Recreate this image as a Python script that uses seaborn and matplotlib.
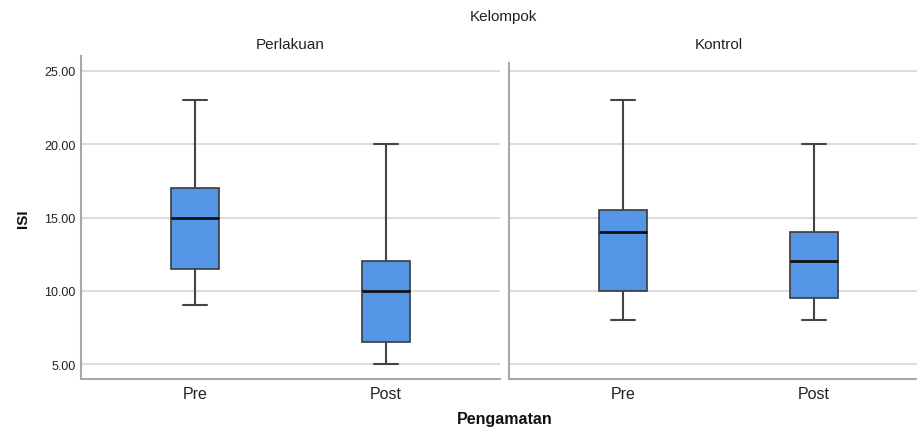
import matplotlib
matplotlib.use("Agg")
import matplotlib.pyplot as plt
import seaborn as sns
import pandas as pd

# Five-number summaries (min, Q1, median, Q3, max)
groups = ["Perlakuan", "Kontrol"]
times = ["Pre", "Post"]
perlakuan_pre = [9, 11.5, 15, 17, 23]
perlakuan_post = [5, 6.5, 10, 12, 20]
kontrol_pre = [8, 10, 14, 15.5, 23]
kontrol_post = [8, 9.5, 12, 14, 20]
yticks = [5, 10, 15, 20, 25]

values = {("Perlakuan", "Pre"): perlakuan_pre, ("Perlakuan", "Post"): perlakuan_post,
          ("Kontrol", "Pre"): kontrol_pre, ("Kontrol", "Post"): kontrol_post}
rows = []
for (g, t), vals in values.items():
    for v in vals:
        rows.append({"Kelompok": g, "Pengamatan": t, "ISI": v})
df = pd.DataFrame(rows)

sns.set_theme(style="white")
plt.rcParams['font.family'] = ['Liberation Sans', 'DejaVu Sans']

W, H = 917, 431
fig = plt.figure(figsize=(W / 100, H / 100), dpi=100)

box_color = "#5495e6"
edge = "#3a3a3a"
grid_c = "#d9d9d9"
spine_c = "#a8a8a8"

ylo, yhi = 3.98, 26.02
axes_px = [(81, 500), (509, 928)]
top_px, bot_px = 57, 380
for i, g in enumerate(groups):
    x0, x1 = axes_px[i]
    ax = fig.add_axes([x0 / W, 1 - bot_px / H, (x1 - x0) / W, (bot_px - top_px) / H])
    sub = df[df["Kelompok"] == g]
    for yt in yticks:
        ax.axhline(yt, color=grid_c, lw=1.3, zorder=0)
    sns.boxplot(data=sub, x="Pengamatan", y="ISI", order=times, ax=ax,
                width=0.25, whis=(0, 100), color=box_color, saturation=1,
                linecolor=edge, linewidth=1.2,
                medianprops=dict(color="#111111", linewidth=2),
                whiskerprops=dict(color="#444444", linewidth=1.5),
                capprops=dict(color="#444444", linewidth=1.5),
                boxprops=dict(edgecolor=edge, linewidth=1.2),
                showfliers=False, zorder=2)
    ax.set_xlim(-0.6, 1.6)
    ax.set_ylim(ylo, yhi)
    ax.set_yticks(yticks)
    if i == 0:
        ax.set_yticklabels([f"{v:.2f}" for v in yticks], fontsize=9, color="#222222")
        ax.set_ylabel("ISI", fontsize=11, fontweight="bold", color="#111111", labelpad=10)
    else:
        ax.set_yticklabels([])
        ax.set_ylabel("")
        ax.spines["left"].set_bounds(ylo, 25.55)
    ax.set_xlabel("")
    ax.tick_params(axis="x", labelsize=11.5, length=0, pad=5, colors="#222222")
    ax.tick_params(axis="y", length=0, pad=4)
    for s in ["top", "right"]:
        ax.spines[s].set_visible(False)
    for s in ["left", "bottom"]:
        ax.spines[s].set_color(spine_c)
        ax.spines[s].set_linewidth(1.5)
    ax.set_title(g, fontsize=11, color="#222222", pad=6)

fig.text(503 / W, 1 - 17 / H, "Kelompok", ha="center", va="center", fontsize=11, color="#222222")
fig.text(505 / W, 1 - 420 / H, "Pengamatan", ha="center", va="center", fontsize=11.5,
         fontweight="bold", color="#111111")

fig.savefig("out.png", dpi=100)
